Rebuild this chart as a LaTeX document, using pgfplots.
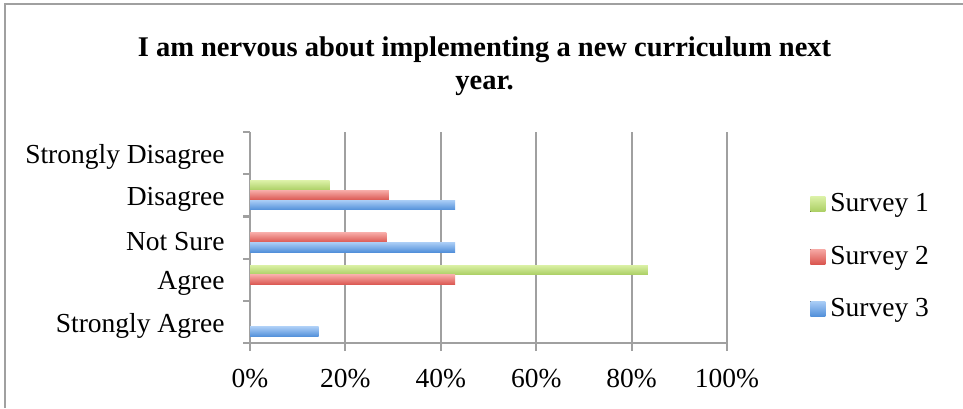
\documentclass[border=0pt]{standalone}
\usepackage{fontspec}
\setmainfont{Liberation Serif}
\usepackage{pgfplots}
\pgfplotsset{compat=1.18}
\definecolor{gridgray}{RGB}{160,160,160}
\definecolor{gTop}{RGB}{218,240,165}
\definecolor{gBot}{RGB}{170,206,98}
\definecolor{rTop}{RGB}{247,170,166}
\definecolor{rBot}{RGB}{218,86,80}
\definecolor{bTop}{RGB}{170,205,246}
\definecolor{bBot}{RGB}{82,144,218}
\pgfplotsset{
  sOne/.style={draw=none, top color=gTop, bottom color=gBot, bar shift=4.85bp},
  sTwo/.style={draw=none, top color=rTop, bottom color=rBot, bar shift=0bp},
  sThree/.style={draw=none, top color=bTop, bottom color=bBot, bar shift=-4.85bp},
}
\begin{document}
\begin{tikzpicture}[x=1bp,y=1bp]
\useasboundingbox (0,0) rectangle (481.5,204);
\draw[gridgray, line width=1bp] (2.5,0) -- (2.5,202) -- (481.5,202);
\node[font=\fontsize{14.3}{16.5}\selectfont\bfseries, align=center] at (242.25,171) {I am nervous about implementing a new curriculum next\\year.};
\begin{axis}[
  at={(125bp,32.5bp)}, anchor=south west,
  scale only axis, width=238.5bp, height=105.5bp,
  xbar, bar width=4.85bp,
  xmin=0, xmax=100, ymin=0.5, ymax=5.5,
  axis x line*=bottom, axis y line*=left,
  axis line style={gridgray, line width=1.1bp},
  xtick={0,20,40,60,80,100},
  xticklabels={0\%,20\%,40\%,60\%,80\%,100\%},
  ytick={1,2,3,4,5},
  yticklabels={Strongly Agree,Agree,Not Sure,Disagree,Strongly Disagree},
  minor ytick={0.5,1.5,2.5,3.5,4.5,5.5},
  tick align=outside,
  major tick length=4bp, minor tick length=3.5bp,
  major x tick style={gridgray, line width=1bp},
  major y tick style={draw=none},
  minor y tick style={draw=gridgray, line width=1.1bp},
  xmajorgrids, grid style={gridgray, line width=1bp},
  tick label style={font=\fontsize{13.8}{16}\selectfont, inner sep=0pt},
  y tick label style={anchor=east, xshift=-8.5bp, yshift=-2bp},
  x tick label style={anchor=north, yshift=-9bp},
  legend style={draw=none, fill=none, at={(1.174,0.41)}, anchor=west, inner sep=0pt,
    font=\fontsize{13.8}{16}\selectfont, row sep=11.5bp,
    nodes={inner xsep=2.5bp}},
  legend cell align=left,
  legend image code/.code={\fill[#1] (0bp,-3.75bp) rectangle (7.5bp,3.75bp);},
]
% Survey 1
\addplot[sOne] coordinates {(16.7,4)};
\addplot[sOne, forget plot] coordinates {(83.4,2)};
% Survey 2
\addplot[sTwo] coordinates {(29.1,4)};
\addplot[sTwo, forget plot] coordinates {(28.6,3)};
\addplot[sTwo, forget plot] coordinates {(43.0,2)};
% Survey 3
\addplot[sThree] coordinates {(43.0,4)};
\addplot[sThree, forget plot] coordinates {(43.0,3)};
\addplot[sThree, forget plot] coordinates {(14.4,1)};
\legend{Survey 1,Survey 2,Survey 3}
\end{axis}
\end{tikzpicture}
\end{document}
